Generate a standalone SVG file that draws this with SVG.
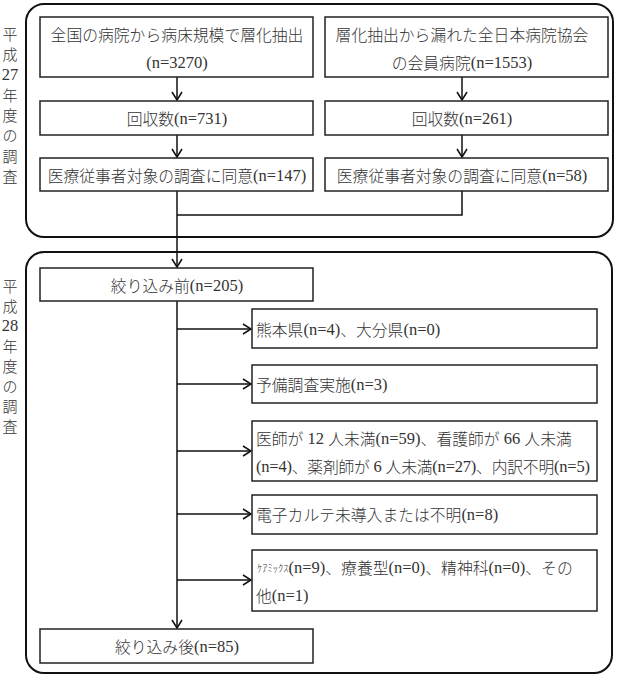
<svg xmlns="http://www.w3.org/2000/svg" width="617" height="676" viewBox="0 0 617 676">
<style>
text{font-family:"Noto Sans CJK JP",sans-serif;font-weight:300;font-size:15.8px;fill:#333;dominant-baseline:central}
.l{font-family:"Liberation Serif","Times New Roman",serif;font-weight:400;font-size:16.5px}
.c{text-anchor:middle}
.lab{font-size:15px;text-anchor:middle}
.box{fill:#fff;stroke:#222;stroke-width:1.5}
.outer{fill:none;stroke:#111;stroke-width:2}
.ln{fill:none;stroke:#111;stroke-width:1.5}
</style>
<defs>
<marker id="arr" markerWidth="12" markerHeight="12" refX="9" refY="5" orient="auto" markerUnits="userSpaceOnUse" viewBox="0 0 12 10">
<path d="M1,0 L9,5 L1,10" fill="none" stroke="#111" stroke-width="1.5"/>
</marker>
</defs>
<g id="frame2015"><rect class="outer" x="26" y="4" width="587" height="233" rx="18"/></g>
<g id="frame2016"><rect class="outer" x="26" y="252" width="586" height="421" rx="18"/></g>
<g id="label2015">
<text class="lab" x="10" y="33">平</text><text class="lab" x="10" y="53">成</text><text class="lab" x="10" y="74"><tspan class="l">27</tspan></text><text class="lab" x="10" y="94">年</text><text class="lab" x="10" y="114">度</text><text class="lab" x="10" y="134">の</text><text class="lab" x="10" y="155">調</text><text class="lab" x="10" y="175">査</text>
</g>
<g id="label2016">
<text class="lab" x="10" y="285">平</text><text class="lab" x="10" y="305">成</text><text class="lab" x="10" y="325"><tspan class="l">28</tspan></text><text class="lab" x="10" y="345">年</text><text class="lab" x="10" y="365">度</text><text class="lab" x="10" y="385">の</text><text class="lab" x="10" y="405">調</text><text class="lab" x="10" y="425">査</text>
</g>
<g id="connectors">
<line class="ln" x1="177" y1="77" x2="177" y2="100" marker-end="url(#arr)"/>
<line class="ln" x1="177" y1="135" x2="177" y2="157" marker-end="url(#arr)"/>
<line class="ln" x1="462" y1="77" x2="462" y2="100" marker-end="url(#arr)"/>
<line class="ln" x1="462" y1="135" x2="462" y2="157" marker-end="url(#arr)"/>
<polyline class="ln" points="462,191 462,215 177,215"/>
<line class="ln" x1="177" y1="191" x2="177" y2="267" marker-end="url(#arr)"/>
<line class="ln" x1="177" y1="301" x2="177" y2="628" marker-end="url(#arr)"/>
<line class="ln" x1="177" y1="329" x2="251" y2="329" marker-end="url(#arr)"/>
<line class="ln" x1="177" y1="384" x2="251" y2="384" marker-end="url(#arr)"/>
<line class="ln" x1="177" y1="451" x2="251" y2="451" marker-end="url(#arr)"/>
<line class="ln" x1="177" y1="514" x2="251" y2="514" marker-end="url(#arr)"/>
<line class="ln" x1="177" y1="580" x2="251" y2="580" marker-end="url(#arr)"/>
</g>
<g id="nodeA"><rect class="box" x="40" y="17" width="273" height="60"/><text class="c" x="177" y="34">全国の病院から病床規模で層化抽出</text><text class="c" x="177" y="62"><tspan class="l">(n=3270)</tspan></text></g>
<g id="nodeB"><rect class="box" x="325" y="17" width="283" height="60"/><text class="c" x="462" y="34">層化抽出から漏れた全日本病院協会</text><text class="c" x="462" y="62">の会員病院<tspan class="l">(n=1553)</tspan></text></g>
<g id="nodeA2"><rect class="box" x="40" y="101" width="273" height="34"/><text class="c" x="177" y="118">回収数<tspan class="l">(n=731)</tspan></text></g>
<g id="nodeB2"><rect class="box" x="325" y="101" width="283" height="34"/><text class="c" x="462" y="118">回収数<tspan class="l">(n=261)</tspan></text></g>
<g id="nodeA3"><rect class="box" x="40" y="158" width="273" height="33"/><text class="c" x="177" y="175">医療従事者対象の調査に同意<tspan class="l">(n=147)</tspan></text></g>
<g id="nodeB3"><rect class="box" x="325" y="158" width="283" height="33"/><text class="c" x="462" y="175">医療従事者対象の調査に同意<tspan class="l">(n=58)</tspan></text></g>
<g id="before"><rect class="box" x="40" y="268" width="273" height="33"/><text class="c" x="177" y="285">絞り込み前<tspan class="l">(n=205)</tspan></text></g>
<g id="ex1"><rect class="box" x="252" y="309" width="345" height="39"/><text x="256" y="329">熊本県<tspan class="l">(n=4)</tspan>、大分県<tspan class="l">(n=0)</tspan></text></g>
<g id="ex2"><rect class="box" x="252" y="365" width="345" height="38"/><text x="256" y="384">予備調査実施<tspan class="l">(n=3)</tspan></text></g>
<g id="ex3"><rect class="box" x="252" y="421" width="345" height="60"/><text x="256" y="438">医師が<tspan class="l"> 12 </tspan>人未満<tspan class="l">(n=59)</tspan>、看護師が<tspan class="l"> 66 </tspan>人未満</text><text x="256" y="466" textLength="334"><tspan class="l">(n=4)</tspan>、薬剤師が<tspan class="l"> 6 </tspan>人未満<tspan class="l">(n=27)</tspan>、内訳不明<tspan class="l">(n=5)</tspan></text></g>
<g id="ex4"><rect class="box" x="252" y="495" width="345" height="39"/><text x="256" y="514">電子カルテ未導入または不明<tspan class="l">(n=8)</tspan></text></g>
<g id="ex5"><rect class="box" x="252" y="550" width="345" height="61"/><text x="257" y="567"><tspan font-size="10.5">ｹｱﾐｯｸｽ</tspan><tspan class="l">(n=9)</tspan>、療養型<tspan class="l">(n=0)</tspan>、精神科<tspan class="l">(n=0)</tspan>、その</text><text x="256" y="595">他<tspan class="l">(n=1)</tspan></text></g>
<g id="after"><rect class="box" x="40" y="629" width="273" height="34"/><text class="c" x="177" y="646">絞り込み後<tspan class="l">(n=85)</tspan></text></g>
</svg>
